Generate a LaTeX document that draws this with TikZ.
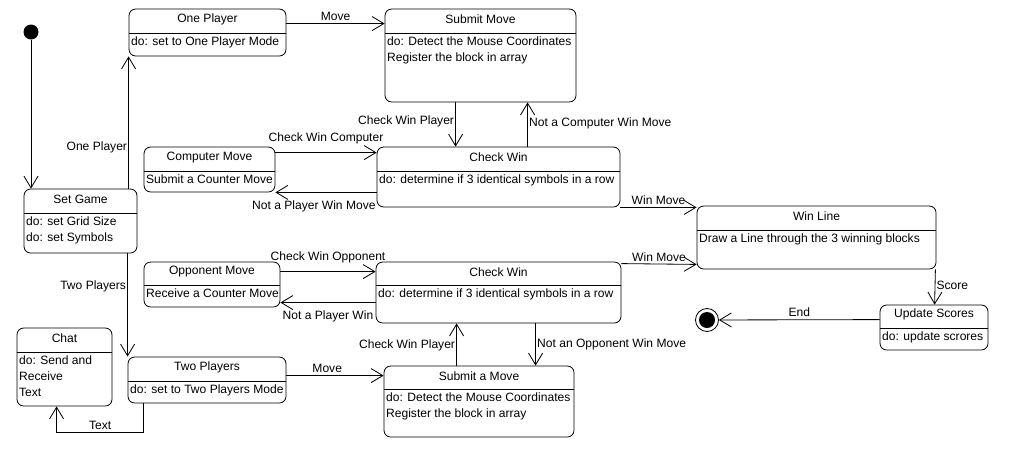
\documentclass[tikz,border=0pt]{standalone}
\usepackage{fontspec}
\setmainfont{Liberation Sans}
\usepackage{tikz}
\usetikzlibrary{arrows.meta,positioning,calc,fit}

% #1 name, #2 left, #3 top, #4 right, #5 bottom, #6 divider, #7 title, #8 body
\newcommand{\umlstate}[8]{%
  \node[umlbox, fit={(#2,#3) (#4,#5)}] (#1) {};
  \draw (#2,#6) -- (#4,#6);
  \node[stitle] (#1-title) at ({(#2+#4)/2},{(#3+#6)/2}) {#7};
  \node[sbody] (#1-body) at (#2,#6) {#8};
}

\begin{document}
\begin{tikzpicture}[
    x=0.03cm, y=-0.03cm,
    line width=0.7pt,
    font=\fontsize{10.3}{13.7}\selectfont,
    trans/.style={-{Straight Barb[length=10pt,width=12pt]}},
    umlbox/.style={draw, rounded corners=2mm, inner sep=0pt},
    stitle/.style={inner sep=0pt, yshift=1.5pt},
    sbody/.style={anchor=north west, align=left, inner xsep=1.5pt, inner ysep=2.8pt},
    lbl/.style={inner sep=1pt},
    startst/.style={circle, fill=black, minimum size=0.45cm, inner sep=0pt},
    endst/.style={circle, draw, fill=white, minimum size=0.69cm, inner sep=0pt,
        path picture={\fill[black] (path picture bounding box.center) circle (0.24cm);}}
]
\useasboundingbox (0,0) rectangle (1009,470);

\umlstate{setgame}{24}{189}{137}{253}{213}{Set Game}{do: set Grid Size\\do: set Symbols}
\umlstate{oneplayer}{129}{9}{286}{56}{33}{One Player}{do: set to One Player Mode}
\umlstate{submit1}{385}{9}{576}{102}{33}{Submit Move}{do: Detect the Mouse Coordinates\\Register the block in array}
\umlstate{checkwin1}{377}{147}{620}{207}{171}{Check Win}{do: determine if 3 identical symbols in a row}
\umlstate{compmove}{144}{147}{275}{192}{171}{Computer Move}{Submit a Counter Move}
\umlstate{winline}{697}{206}{936}{269}{230}{Win Line}{Draw a Line through the 3 winning blocks}
\umlstate{oppmove}{144}{262}{280}{307}{285}{Opponent Move}{Receive a Counter Move}
\umlstate{checkwin2}{376}{262}{621}{323}{285}{Check Win}{do: determine if 3 identical symbols in a row}
\umlstate{update}{880}{305}{988}{350}{328}{Update Scores}{do: update scrores}
\umlstate{chat}{17}{328}{112}{406}{352}{Chat}{do: Send and\\Receive\\Text}
\umlstate{twoplayers}{128}{357}{286}{403}{381}{Two Players}{do: set to Two Players Mode}
\umlstate{submit2}{384}{366}{574}{437}{389}{Submit a Move}{do: Detect the Mouse Coordinates\\Register the block in array}

\node[startst] (init) at (31,32) {};
\node[endst] (final) at (707,320) {};

\draw[trans] (init) -- (init |- setgame.north);
\draw[trans] (setgame.north -| oneplayer.south west) -- (oneplayer.south west)
    node[lbl, pos=0.31, left] {One Player};
\draw[trans] (setgame.south -| twoplayers.north west) -- (twoplayers.north west)
    node[lbl, pos=0.32, left] {Two Players};
\draw[trans] ($(oneplayer.north east)+(0,15)$) -- ($(submit1.north west)+(0,15)$)
    node[lbl, midway, above=1pt] {Move};
\draw[trans] ($(submit1.south west)+(71,0)$) -- ($(checkwin1.north west)+(79,0)$)
    node[lbl, pos=0.44, left] {Check Win Player};
\draw[trans] ($(checkwin1.north west)+(151,0)$) -- ($(submit1.south west)+(143,0)$)
    node[lbl, pos=0.53, right] {Not a Computer Win Move};
\draw[trans] ($(compmove.north east)+(0,6)$) -- ($(checkwin1.north west)+(0,6)$)
    node[lbl, midway, above=6pt] {Check Win Computer};
\draw[trans] ($(checkwin1.south west)+(0,-15)$) -- (compmove.south east)
    node[lbl, pos=0.62, below=6pt] {Not a Player Win Move};
\draw[trans] (checkwin1.south east) -- (checkwin1.south east -| winline.west)
    node[lbl, midway, above=1pt] {Win Move};
\draw[trans] ($(oppmove.north east)+(0,10)$) -- ($(checkwin2.north west)+(0,10)$)
    node[lbl, midway, above=6pt] {Check Win Opponent};
\draw[trans] ($(checkwin2.north west)+(0,41)$) -- ($(oppmove.north east)+(0,41)$)
    node[lbl, midway, below=6pt] {Not a Player Win};
\draw[trans] ($(checkwin2.north east)+(0,2)$) -- ($(winline.south west)+(0,-5)$)
    node[lbl, midway, above=1pt] {Win Move};
\draw[trans] ($(twoplayers.north east)+(0,19)$) -- ($(submit2.north west)+(0,10)$)
    node[lbl, pos=0.42, above=1pt] {Move};
\draw[trans] ($(submit2.north west)+(73,0)$) -- ($(checkwin2.south west)+(81,0)$)
    node[lbl, pos=0.47, left] {Check Win Player};
\draw[trans] ($(checkwin2.south west)+(160,0)$) -- ($(submit2.north west)+(152,0)$)
    node[lbl, pos=0.49, right] {Not an Opponent Win Move};
\draw[trans] ($(twoplayers.south west)+(16,0)$) -- ($(twoplayers.south west)+(16,29)$)
    -- ($(chat.south west)+(40,26)$) node[lbl, midway, above=1pt] {Text}
    -- ($(chat.south west)+(40,0)$);
\draw[trans] ($(winline.south east)+(-1,0)$) -- ($(update.north west)+(55,0)$)
    node[lbl, pos=0.44, right] {Score};
\draw[trans] ($(update.north west)+(0,15)$) -- (final)
    node[lbl, midway, above=1pt] {End};
\end{tikzpicture}
\end{document}
